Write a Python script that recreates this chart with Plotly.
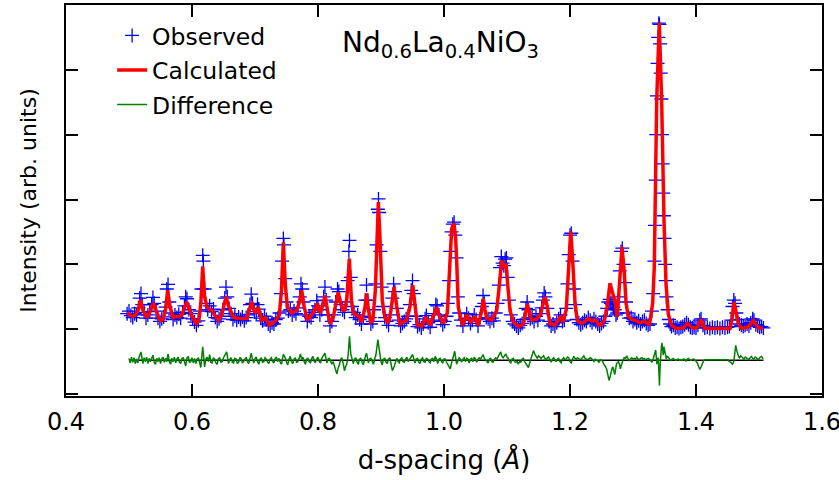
import plotly.graph_objects as go

# ---------------- data ----------------
x_ticks = [0.4, 0.6, 0.8, 1.0, 1.2, 1.4, 1.6]
x_tick_labels = ["0.4", "0.6", "0.8", "1.0", "1.2", "1.4", "1.6"]
y_ticks = [-1, 0, 1, 2, 3, 4, 5]
series_names = ["Observed", "Calculated", "Difference"]
compound_label = "Nd<sub>0.6</sub>La<sub>0.4</sub>NiO<sub>3</sub>"

# observed intensity (d-spacing, intensity)
observed = [
    (0.497, 0.24), (0.500, 0.28), (0.503, 0.21), (0.506, 0.18), (0.509, 0.24), (0.512, 0.22),
    (0.515, 0.33), (0.517, 0.48), (0.519, 0.55), (0.521, 0.38), (0.524, 0.26), (0.527, 0.17),
    (0.530, 0.22), (0.533, 0.27), (0.536, 0.38), (0.538, 0.49), (0.540, 0.40), (0.543, 0.28),
    (0.546, 0.17), (0.549, 0.12), (0.552, 0.16), (0.555, 0.19), (0.558, 0.34), (0.560, 0.62),
    (0.562, 0.69), (0.564, 0.42), (0.567, 0.25), (0.570, 0.15), (0.573, 0.22), (0.576, 0.18),
    (0.579, 0.23), (0.582, 0.17), (0.585, 0.26), (0.588, 0.36), (0.590, 0.50), (0.592, 0.47),
    (0.595, 0.30), (0.598, 0.24), (0.601, 0.16), (0.604, 0.11), (0.607, 0.06), (0.610, 0.13),
    (0.613, 0.28), (0.615, 0.62), (0.617, 1.14), (0.618, 1.05), (0.620, 0.62), (0.622, 0.40),
    (0.625, 0.30), (0.628, 0.36), (0.631, 0.27), (0.634, 0.31), (0.637, 0.18), (0.640, 0.12),
    (0.643, 0.16), (0.646, 0.20), (0.649, 0.30), (0.652, 0.48), (0.654, 0.65), (0.656, 0.50),
    (0.659, 0.32), (0.662, 0.24), (0.665, 0.15), (0.668, 0.20), (0.671, 0.14), (0.674, 0.19),
    (0.677, 0.15), (0.680, 0.19), (0.683, 0.13), (0.686, 0.18), (0.689, 0.22), (0.692, 0.38),
    (0.694, 0.54), (0.696, 0.40), (0.699, 0.27), (0.702, 0.24), (0.704, 0.38), (0.706, 0.31),
    (0.709, 0.17), (0.712, 0.13), (0.715, 0.20), (0.718, 0.15), (0.721, 0.08), (0.724, 0.05),
    (0.727, 0.10), (0.730, 0.08), (0.733, 0.15), (0.736, 0.17), (0.739, 0.25), (0.741, 0.55),
    (0.743, 1.05), (0.745, 1.40), (0.746, 1.30), (0.748, 0.78), (0.750, 0.42), (0.753, 0.28),
    (0.756, 0.30), (0.759, 0.22), (0.762, 0.28), (0.765, 0.24), (0.768, 0.33), (0.771, 0.50),
    (0.773, 0.70), (0.775, 0.62), (0.777, 0.42), (0.780, 0.22), (0.783, 0.12), (0.786, 0.20),
    (0.789, 0.18), (0.792, 0.26), (0.795, 0.30), (0.798, 0.44), (0.800, 0.36), (0.803, 0.22),
    (0.806, 0.30), (0.809, 0.50), (0.811, 0.65), (0.813, 0.45), (0.816, 0.22), (0.819, 0.05),
    (0.822, 0.12), (0.825, 0.22), (0.828, 0.42), (0.831, 0.62), (0.833, 0.58), (0.836, 0.38),
    (0.839, 0.30), (0.842, 0.26), (0.845, 0.42), (0.847, 0.75), (0.849, 1.20), (0.850, 1.37),
    (0.852, 0.80), (0.854, 0.35), (0.857, 0.26), (0.860, 0.18), (0.863, 0.22), (0.866, 0.15),
    (0.869, 0.08), (0.872, 0.20), (0.875, 0.45), (0.877, 0.68), (0.879, 0.45), (0.882, 0.18),
    (0.884, 0.08), (0.887, 0.12), (0.889, 0.30), (0.891, 0.70), (0.893, 1.30), (0.895, 1.85),
    (0.896, 2.01), (0.897, 1.80), (0.899, 1.20), (0.901, 0.65), (0.903, 0.35), (0.906, 0.18),
    (0.909, 0.12), (0.912, 0.06), (0.915, 0.22), (0.918, 0.48), (0.920, 0.70), (0.922, 0.58),
    (0.925, 0.32), (0.928, 0.14), (0.931, 0.05), (0.934, 0.09), (0.937, 0.12), (0.940, 0.16),
    (0.943, 0.20), (0.946, 0.38), (0.948, 0.60), (0.950, 0.75), (0.952, 0.55), (0.955, 0.20),
    (0.958, 0.04), (0.961, 0.07), (0.964, 0.02), (0.967, 0.08), (0.970, 0.16), (0.972, 0.21),
    (0.975, 0.10), (0.978, 0.03), (0.981, 0.12), (0.984, 0.24), (0.987, 0.38), (0.989, 0.36),
    (0.992, 0.22), (0.995, 0.14), (0.998, 0.07), (1.001, 0.12), (1.004, 0.20), (1.006, 0.40),
    (1.008, 0.75), (1.010, 1.20), (1.012, 1.50), (1.014, 1.62), (1.016, 1.65), (1.018, 1.45),
    (1.020, 1.10), (1.022, 0.50), (1.024, 0.25), (1.027, 0.14), (1.030, 0.05), (1.033, 0.15),
    (1.036, 0.24), (1.039, 0.17), (1.042, 0.09), (1.045, 0.14), (1.048, 0.22), (1.051, 0.15),
    (1.054, 0.05), (1.057, 0.16), (1.060, 0.35), (1.062, 0.52), (1.064, 0.40), (1.067, 0.18),
    (1.070, 0.16), (1.073, 0.12), (1.076, 0.17), (1.079, 0.13), (1.082, 0.25), (1.085, 0.40),
    (1.087, 0.68), (1.089, 0.95), (1.091, 1.12), (1.093, 1.02), (1.095, 0.98), (1.097, 1.08),
    (1.099, 1.10), (1.101, 0.80), (1.103, 0.45), (1.106, 0.22), (1.109, 0.12), (1.112, 0.08),
    (1.115, 0.05), (1.118, 0.02), (1.121, 0.06), (1.124, 0.09), (1.127, 0.15), (1.130, 0.32),
    (1.132, 0.42), (1.134, 0.30), (1.137, 0.16), (1.140, 0.18), (1.143, 0.12), (1.146, 0.20),
    (1.149, 0.14), (1.152, 0.24), (1.155, 0.33), (1.157, 0.45), (1.159, 0.56), (1.161, 0.50),
    (1.164, 0.32), (1.167, 0.12), (1.170, 0.05), (1.173, 0.08), (1.176, 0.04), (1.179, 0.10),
    (1.182, 0.16), (1.185, 0.22), (1.188, 0.12), (1.191, 0.14), (1.194, 0.32), (1.196, 0.70),
    (1.198, 1.15), (1.200, 1.45), (1.202, 1.48), (1.204, 1.05), (1.206, 0.62), (1.208, 0.38),
    (1.211, 0.15), (1.214, 0.10), (1.217, 0.07), (1.220, 0.10), (1.223, 0.14), (1.226, 0.12),
    (1.229, 0.18), (1.232, 0.14), (1.235, 0.10), (1.238, 0.16), (1.241, 0.12), (1.244, 0.08),
    (1.247, 0.05), (1.250, 0.09), (1.253, 0.12), (1.256, 0.20), (1.259, 0.32), (1.261, 0.42),
    (1.263, 0.46), (1.265, 0.40), (1.267, 0.38), (1.269, 0.34), (1.271, 0.30), (1.273, 0.22),
    (1.275, 0.25), (1.277, 0.50), (1.279, 0.90), (1.281, 1.20), (1.283, 1.25), (1.285, 1.00),
    (1.287, 0.72), (1.289, 0.42), (1.291, 0.25), (1.294, 0.17), (1.297, 0.18), (1.300, 0.12),
    (1.303, 0.15), (1.306, 0.10), (1.309, 0.13), (1.312, 0.08), (1.315, 0.12), (1.318, 0.14),
    (1.321, 0.09), (1.324, 0.06), (1.327, 0.08), (1.330, 0.28), (1.332, 0.55), (1.334, 1.05),
    (1.335, 1.60), (1.336, 2.30), (1.337, 3.00), (1.338, 3.60), (1.339, 4.10), (1.340, 4.50),
    (1.341, 4.72), (1.342, 4.70), (1.343, 4.40), (1.344, 3.95), (1.345, 3.55), (1.346, 3.00),
    (1.347, 2.55), (1.348, 2.10), (1.349, 1.75), (1.350, 1.40), (1.351, 1.00), (1.352, 0.75),
    (1.353, 0.50), (1.355, 0.30), (1.357, 0.15), (1.359, 0.08), (1.361, 0.04), (1.364, 0.06),
    (1.367, 0.02), (1.370, 0.03), (1.373, 0.01), (1.376, 0.03), (1.379, 0.04), (1.382, 0.07),
    (1.385, 0.10), (1.388, 0.07), (1.391, 0.03), (1.394, 0.02), (1.397, 0.03), (1.400, 0.02),
    (1.403, 0.06), (1.406, 0.14), (1.408, 0.16), (1.411, 0.06), (1.414, 0.02), (1.418, 0.03),
    (1.422, 0.01), (1.426, 0.03), (1.430, 0.02), (1.434, 0.03), (1.438, 0.01), (1.442, 0.03),
    (1.446, 0.02), (1.450, 0.03), (1.453, 0.04), (1.456, 0.14), (1.458, 0.35), (1.460, 0.45),
    (1.462, 0.40), (1.464, 0.25), (1.466, 0.15), (1.469, 0.08), (1.472, 0.06), (1.475, 0.04),
    (1.478, 0.06), (1.481, 0.08), (1.484, 0.05), (1.487, 0.10), (1.490, 0.16), (1.492, 0.14),
    (1.495, 0.07), (1.498, 0.05), (1.501, 0.03), (1.504, 0.04), (1.507, 0.02),
]

# calculated profile (d-spacing, intensity)
calculated = [
    (0.497, 0.25), (0.502, 0.22), (0.506, 0.20), (0.510, 0.22), (0.514, 0.28), (0.5185, 0.45),
    (0.522, 0.30), (0.528, 0.18), (0.532, 0.24), (0.536, 0.34), (0.5386, 0.40), (0.542, 0.32),
    (0.546, 0.20), (0.550, 0.13), (0.554, 0.15), (0.558, 0.30), (0.5614, 0.60), (0.565, 0.35),
    (0.570, 0.18), (0.575, 0.20), (0.580, 0.19), (0.584, 0.22), (0.588, 0.32), (0.5915, 0.42),
    (0.595, 0.33), (0.600, 0.20), (0.607, 0.09), (0.611, 0.14), (0.614, 0.40), (0.617, 0.97),
    (0.620, 0.50), (0.624, 0.34), (0.628, 0.30), (0.632, 0.29), (0.637, 0.20), (0.642, 0.14),
    (0.647, 0.22), (0.651, 0.38), (0.654, 0.50), (0.658, 0.36), (0.663, 0.25), (0.666, 0.18),
    (0.672, 0.17), (0.680, 0.16), (0.687, 0.17), (0.691, 0.28), (0.6947, 0.42), (0.698, 0.30),
    (0.701, 0.25), (0.7053, 0.34), (0.7106, 0.14), (0.716, 0.18), (0.7228, 0.06), (0.7317, 0.12),
    (0.7386, 0.22), (0.742, 0.60), (0.745, 1.34), (0.748, 0.70), (0.7513, 0.34), (0.7582, 0.25),
    (0.766, 0.29), (0.770, 0.40), (0.7741, 0.60), (0.778, 0.35), (0.783, 0.14), (0.790, 0.22),
    (0.795, 0.30), (0.799, 0.40), (0.803, 0.25), (0.807, 0.35), (0.8111, 0.52), (0.815, 0.30),
    (0.819, 0.08), (0.824, 0.18), (0.828, 0.40), (0.832, 0.57), (0.836, 0.40), (0.840, 0.29),
    (0.843, 0.30), (0.846, 0.50), (0.8497, 1.09), (0.853, 0.45), (0.856, 0.25), (0.864, 0.20),
    (0.869, 0.11), (0.874, 0.30), (0.8773, 0.55), (0.880, 0.30), (0.8836, 0.11), (0.887, 0.13),
    (0.891, 0.60), (0.894, 1.60), (0.8958, 1.96), (0.898, 1.50), (0.902, 0.45), (0.9063, 0.17),
    (0.9116, 0.09), (0.916, 0.30), (0.9206, 0.65), (0.925, 0.35), (0.930, 0.08), (0.9407, 0.14),
    (0.946, 0.35), (0.9503, 0.68), (0.954, 0.30), (0.9577, 0.06), (0.9646, 0.05), (0.9714, 0.19),
    (0.9778, 0.06), (0.983, 0.20), (0.9884, 0.34), (0.993, 0.20), (0.9989, 0.09), (1.0053, 0.25),
    (1.0095, 1.11), (1.0122, 1.55), (1.0159, 1.63), (1.0185, 1.40), (1.0201, 1.06), (1.0227, 0.34),
    (1.0265, 0.17), (1.0296, 0.06), (1.036, 0.22), (1.043, 0.10), (1.049, 0.20), (1.0545, 0.06),
    (1.059, 0.25), (1.0624, 0.47), (1.065, 0.30), (1.0678, 0.17), (1.0757, 0.14), (1.0836, 0.29),
    (1.087, 0.60), (1.0916, 1.06), (1.095, 0.95), (1.0984, 1.01), (1.101, 0.70), (1.1048, 0.29),
    (1.110, 0.11), (1.118, 0.04), (1.126, 0.08), (1.1322, 0.39), (1.139, 0.14), (1.147, 0.16),
    (1.153, 0.22), (1.157, 0.40), (1.160, 0.50), (1.164, 0.35), (1.168, 0.09), (1.176, 0.06),
    (1.185, 0.20), (1.189, 0.11), (1.194, 0.30), (1.197, 0.80), (1.2011, 1.51), (1.204, 1.10),
    (1.208, 0.40), (1.2116, 0.13), (1.2185, 0.09), (1.224, 0.12), (1.229, 0.17), (1.235, 0.12),
    (1.240, 0.15), (1.246, 0.06), (1.251, 0.08), (1.255, 0.15), (1.259, 0.35), (1.2635, 0.71),
    (1.2688, 0.52), (1.272, 0.40), (1.275, 0.19), (1.278, 0.60), (1.2825, 1.27), (1.286, 0.90),
    (1.289, 0.40), (1.2926, 0.19), (1.298, 0.15), (1.305, 0.13), (1.312, 0.10), (1.318, 0.13),
    (1.326, 0.06), (1.3312, 0.40), (1.3338, 0.96), (1.3376, 3.52), (1.3417, 4.73), (1.3455, 3.52),
    (1.347, 2.50), (1.3492, 1.68), (1.3524, 0.70), (1.356, 0.24), (1.361, 0.06), (1.369, 0.01),
    (1.380, 0.02), (1.386, 0.09), (1.396, 0.01), (1.403, 0.04), (1.4075, 0.15), (1.414, 0.01),
    (1.430, 0.01), (1.454, 0.01), (1.457, 0.15), (1.4603, 0.42), (1.464, 0.25), (1.467, 0.09),
    (1.4725, 0.01), (1.483, 0.04), (1.491, 0.13), (1.497, 0.04), (1.5016, 0.01), (1.506, 0.02),
]

# difference (observed - calculated), drawn shifted below the pattern
difference = [
    (0.500, 0.03), (0.502, -0.04), (0.504, 0.05), (0.506, -0.03), (0.508, 0.04), (0.510, -0.05),
    (0.512, 0.02), (0.514, -0.04), (0.516, 0.05), (0.519, 0.13), (0.522, -0.05), (0.524, 0.04),
    (0.526, -0.02), (0.528, 0.05), (0.530, -0.05), (0.532, 0.03), (0.534, -0.02), (0.536, 0.05),
    (0.538, 0.08), (0.540, -0.03), (0.542, -0.06), (0.544, 0.03), (0.546, -0.02), (0.548, 0.04),
    (0.550, -0.05), (0.552, 0.02), (0.554, 0.05), (0.556, -0.03), (0.558, 0.03), (0.560, -0.02),
    (0.562, 0.10), (0.564, -0.02), (0.566, -0.06), (0.568, 0.03), (0.570, -0.02), (0.572, 0.05),
    (0.574, -0.04), (0.576, 0.02), (0.578, 0.05), (0.580, -0.03), (0.582, -0.05), (0.584, 0.03),
    (0.586, 0.04), (0.588, -0.02), (0.590, -0.09), (0.592, 0.04), (0.594, 0.06), (0.596, -0.03),
    (0.598, -0.02), (0.600, 0.04), (0.602, -0.04), (0.604, 0.03), (0.606, -0.05), (0.608, 0.02),
    (0.610, 0.04), (0.612, -0.03), (0.614, -0.11), (0.617, 0.21), (0.620, -0.10), (0.622, 0.02),
    (0.624, 0.05), (0.626, -0.02), (0.628, 0.09), (0.630, -0.03), (0.632, -0.04), (0.634, 0.04),
    (0.636, 0.02), (0.638, -0.04), (0.640, -0.06), (0.642, 0.03), (0.644, 0.04), (0.646, -0.03),
    (0.648, -0.02), (0.650, 0.04), (0.652, 0.07), (0.655, 0.13), (0.658, -0.05), (0.660, 0.02),
    (0.662, 0.04), (0.664, -0.03), (0.666, -0.04), (0.668, 0.03), (0.670, 0.02), (0.672, -0.05),
    (0.674, -0.03), (0.676, 0.04), (0.678, 0.03), (0.680, -0.04), (0.682, -0.02), (0.684, 0.03),
    (0.686, 0.05), (0.688, -0.02), (0.690, -0.05), (0.692, 0.03), (0.694, 0.11), (0.696, 0.02),
    (0.698, -0.04), (0.700, 0.03), (0.702, 0.05), (0.704, -0.02), (0.706, -0.06), (0.708, 0.02),
    (0.710, 0.04), (0.712, -0.03), (0.714, -0.02), (0.716, 0.04), (0.718, 0.02), (0.720, -0.03),
    (0.722, -0.05), (0.724, 0.02), (0.726, 0.04), (0.728, -0.02), (0.730, -0.04), (0.732, 0.03),
    (0.734, 0.05), (0.736, -0.02), (0.738, 0.03), (0.740, -0.03), (0.742, -0.06), (0.745, 0.09),
    (0.748, 0.04), (0.750, -0.03), (0.752, -0.07), (0.754, 0.02), (0.756, 0.06), (0.758, -0.02),
    (0.760, -0.05), (0.762, 0.02), (0.764, 0.04), (0.766, -0.03), (0.768, -0.02), (0.770, 0.03),
    (0.772, 0.10), (0.774, 0.02), (0.776, 0.05), (0.778, -0.02), (0.780, -0.06), (0.782, 0.02),
    (0.784, 0.03), (0.786, -0.02), (0.788, -0.04), (0.790, 0.03), (0.792, 0.06), (0.794, -0.02),
    (0.796, -0.03), (0.798, 0.02), (0.800, 0.05), (0.802, -0.02), (0.804, -0.04), (0.806, 0.03),
    (0.808, 0.06), (0.811, 0.11), (0.814, -0.04), (0.816, 0.02), (0.818, 0.03), (0.820, -0.03),
    (0.822, -0.06), (0.824, -0.02), (0.826, -0.09), (0.828, -0.12), (0.830, -0.21), (0.832, -0.12),
    (0.834, -0.07), (0.836, 0.02), (0.838, 0.04), (0.840, -0.05), (0.842, -0.16), (0.844, -0.09),
    (0.846, -0.05), (0.848, 0.10), (0.850, 0.37), (0.852, 0.10), (0.854, 0.02), (0.856, -0.05),
    (0.858, 0.02), (0.860, 0.04), (0.862, -0.03), (0.864, -0.06), (0.866, 0.02), (0.868, 0.03),
    (0.870, -0.03), (0.872, -0.07), (0.874, 0.02), (0.877, 0.11), (0.880, -0.04), (0.882, 0.02),
    (0.884, 0.03), (0.886, -0.03), (0.888, -0.06), (0.890, 0.02), (0.892, 0.09), (0.895, 0.32),
    (0.898, 0.06), (0.900, -0.02), (0.902, -0.07), (0.904, 0.02), (0.906, 0.03), (0.908, -0.03),
    (0.910, -0.05), (0.912, 0.02), (0.914, 0.04), (0.916, -0.06), (0.918, -0.16), (0.921, -0.09),
    (0.923, -0.02), (0.925, 0.03), (0.927, -0.02), (0.929, -0.04), (0.931, 0.02), (0.933, 0.04),
    (0.935, -0.02), (0.937, -0.03), (0.939, 0.02), (0.941, 0.05), (0.943, -0.02), (0.945, 0.02),
    (0.947, 0.04), (0.950, 0.09), (0.952, 0.02), (0.954, -0.04), (0.956, 0.02), (0.958, 0.03),
    (0.960, -0.03), (0.962, -0.05), (0.964, 0.02), (0.966, 0.04), (0.968, -0.02), (0.970, -0.03),
    (0.972, 0.03), (0.974, 0.02), (0.976, -0.02), (0.978, -0.04), (0.980, 0.02), (0.982, 0.03),
    (0.984, -0.02), (0.986, 0.06), (0.988, 0.02), (0.990, -0.05), (0.992, 0.02), (0.994, 0.03),
    (0.996, -0.02), (0.998, -0.04), (1.000, 0.02), (1.002, 0.02), (1.004, -0.03), (1.006, -0.06),
    (1.008, -0.08), (1.010, -0.13), (1.012, -0.04), (1.014, 0.05), (1.017, 0.14), (1.020, -0.06),
    (1.022, -0.02), (1.024, 0.04), (1.026, 0.02), (1.028, -0.03), (1.030, 0.02), (1.032, 0.04),
    (1.034, -0.02), (1.036, 0.03), (1.038, 0.02), (1.040, -0.04), (1.042, 0.02), (1.044, 0.03),
    (1.046, -0.02), (1.048, 0.05), (1.050, 0.02), (1.052, -0.03), (1.054, 0.02), (1.056, 0.04),
    (1.058, 0.02), (1.060, 0.05), (1.062, 0.09), (1.064, 0.03), (1.066, 0.01), (1.068, -0.02),
    (1.070, -0.04), (1.072, 0.02), (1.074, 0.03), (1.076, -0.02), (1.078, -0.03), (1.080, 0.02),
    (1.082, 0.04), (1.084, 0.02), (1.086, 0.06), (1.088, 0.08), (1.090, 0.13), (1.092, 0.06),
    (1.094, 0.04), (1.096, 0.07), (1.098, 0.10), (1.100, 0.05), (1.102, 0.03), (1.104, -0.02),
    (1.106, -0.04), (1.108, 0.02), (1.110, 0.03), (1.112, -0.02), (1.114, -0.03), (1.116, -0.02),
    (1.118, -0.06), (1.120, -0.02), (1.122, -0.03), (1.124, 0.02), (1.126, 0.03), (1.128, -0.02),
    (1.130, -0.05), (1.132, -0.08), (1.134, -0.11), (1.136, -0.04), (1.138, 0.03), (1.140, 0.08),
    (1.142, 0.15), (1.144, 0.10), (1.146, 0.06), (1.148, 0.03), (1.150, 0.07), (1.152, 0.04),
    (1.154, 0.03), (1.156, 0.05), (1.158, 0.07), (1.160, 0.03), (1.162, 0.01), (1.164, 0.04),
    (1.166, 0.05), (1.168, 0.01), (1.170, -0.03), (1.172, 0.02), (1.174, 0.04), (1.176, 0.01),
    (1.178, -0.02), (1.180, 0.02), (1.182, 0.03), (1.184, -0.02), (1.186, -0.04), (1.188, 0.02),
    (1.190, 0.04), (1.192, 0.01), (1.194, 0.02), (1.196, 0.05), (1.198, 0.04), (1.200, -0.02),
    (1.202, -0.04), (1.204, 0.02), (1.206, 0.06), (1.208, 0.03), (1.210, 0.02), (1.212, 0.04),
    (1.214, 0.03), (1.216, 0.01), (1.218, 0.02), (1.220, 0.04), (1.222, 0.07), (1.224, 0.03),
    (1.226, 0.02), (1.228, 0.01), (1.230, 0.02), (1.232, 0.04), (1.234, 0.03), (1.236, 0.01),
    (1.238, -0.02), (1.240, 0.02), (1.242, 0.01), (1.244, -0.01), (1.246, -0.03), (1.248, 0.01),
    (1.250, 0.00), (1.252, -0.02), (1.254, -0.07), (1.256, -0.09), (1.258, -0.13), (1.260, -0.20),
    (1.262, -0.31), (1.264, -0.24), (1.265, -0.18), (1.267, -0.12), (1.268, -0.10), (1.270, -0.16),
    (1.271, -0.22), (1.273, -0.10), (1.274, -0.05), (1.276, -0.03), (1.277, -0.02), (1.279, -0.08),
    (1.280, -0.13), (1.282, -0.06), (1.283, -0.02), (1.285, 0.02), (1.286, 0.04), (1.288, 0.03),
    (1.290, 0.07), (1.292, 0.02), (1.294, -0.01), (1.296, 0.02), (1.298, 0.04), (1.300, 0.02),
    (1.302, 0.03), (1.304, 0.02), (1.306, 0.05), (1.308, 0.02), (1.310, 0.01), (1.312, 0.03),
    (1.314, 0.04), (1.316, 0.02), (1.318, 0.03), (1.320, 0.01), (1.322, 0.02), (1.324, 0.03),
    (1.326, 0.02), (1.328, 0.00), (1.330, -0.03), (1.332, 0.02), (1.333, 0.05), (1.335, 0.10),
    (1.336, 0.16), (1.337, 0.04), (1.338, -0.06), (1.339, 0.02), (1.340, 0.04), (1.341, -0.15),
    (1.342, -0.39), (1.343, -0.10), (1.344, 0.11), (1.345, 0.20), (1.346, 0.27), (1.347, 0.15),
    (1.348, 0.08), (1.349, 0.21), (1.350, 0.17), (1.351, 0.12), (1.352, 0.05), (1.353, 0.02),
    (1.354, 0.06), (1.356, 0.05), (1.358, 0.02), (1.360, 0.00), (1.362, 0.02), (1.364, 0.03),
    (1.366, 0.01), (1.368, 0.00), (1.370, 0.01), (1.372, 0.02), (1.374, 0.00), (1.376, 0.01),
    (1.378, 0.00), (1.380, 0.02), (1.382, 0.01), (1.384, -0.01), (1.386, 0.02), (1.388, 0.03),
    (1.390, 0.01), (1.392, 0.00), (1.394, 0.01), (1.396, 0.02), (1.398, 0.00), (1.400, -0.01),
    (1.402, -0.04), (1.404, -0.09), (1.406, -0.14), (1.408, -0.10), (1.410, -0.04), (1.412, -0.01),
    (1.414, 0.01), (1.418, 0.01), (1.422, 0.00), (1.426, 0.01), (1.430, 0.01), (1.434, 0.00),
    (1.438, 0.01), (1.442, 0.01), (1.446, 0.00), (1.450, 0.01), (1.452, -0.01), (1.454, -0.02),
    (1.456, -0.04), (1.458, -0.06), (1.460, -0.02), (1.461, 0.06), (1.463, 0.23), (1.465, 0.14),
    (1.466, 0.09), (1.468, 0.05), (1.469, 0.04), (1.471, 0.07), (1.472, 0.06), (1.474, 0.03),
    (1.476, 0.02), (1.478, 0.05), (1.480, 0.04), (1.482, 0.02), (1.484, 0.01), (1.486, 0.04),
    (1.488, 0.06), (1.490, 0.03), (1.492, 0.02), (1.494, 0.05), (1.496, 0.04), (1.498, 0.01),
    (1.500, 0.02), (1.502, 0.05), (1.504, 0.06), (1.506, 0.03), (1.507, 0.04),
]

DIFF_OFFSET = -0.48

# ---------------- figure ----------------
d_obs = [p[0] for p in observed]
i_obs = [p[1] for p in observed]
d_calc = [p[0] for p in calculated]
i_calc = [p[1] for p in calculated]
d_diff = [p[0] for p in difference]
i_diff = [p[1] + DIFF_OFFSET for p in difference]

FONT = "DejaVu Sans, Arial, sans-serif"

fig = go.Figure()
fig.add_trace(go.Scatter(
    x=d_obs, y=i_obs, mode="markers", name=series_names[0], legendgroup="a",
    marker=dict(symbol="cross-thin", size=10, color="#0000ff",
                line=dict(color="#0000ff", width=1.3)),
))
fig.add_trace(go.Scatter(
    x=d_calc, y=i_calc, mode="lines", name=series_names[1], legendgroup="b",
    line=dict(color="#ff0000", width=3.5),
))
fig.add_trace(go.Scatter(
    x=[d_diff[0], d_diff[-1]], y=[DIFF_OFFSET, DIFF_OFFSET], mode="lines",
    line=dict(color="black", width=1.5), showlegend=False, hoverinfo="skip",
))
fig.add_trace(go.Scatter(
    x=d_diff, y=i_diff, mode="lines", name=series_names[2], legendgroup="c",
    line=dict(color="#008000", width=1.5),
))

axis_common = dict(
    showline=True, linecolor="black", linewidth=1.5, mirror="ticks",
    ticks="inside", ticklen=12, tickwidth=1.5, tickcolor="black",
    showgrid=False, zeroline=False, automargin=False,
)

fig.update_layout(
    width=839, height=480,
    margin=dict(l=66, r=17, t=5, b=84),
    paper_bgcolor="white", plot_bgcolor="white",
    font=dict(family=FONT, size=22, color="black"),
    showlegend=True,
    legend=dict(x=0.061, y=0.978, xanchor="left", yanchor="top",
                bgcolor="rgba(0,0,0,0)", font=dict(size=23.5), tracegroupgap=1),
    xaxis=dict(
        range=[0.4, 1.6], tickmode="array", tickvals=x_ticks, ticktext=x_tick_labels,
        tickfont=dict(size=24), ticklabelstandoff=3, ticklabeloverflow="allow",
        title=dict(text="d-spacing (<i>Å</i>)", font=dict(size=26), standoff=16),
        **axis_common,
    ),
    yaxis=dict(
        range=[-1.03, 5.0], tickmode="array", tickvals=y_ticks, showticklabels=False,
        title=dict(text="Intensity (arb. units)", font=dict(size=22), standoff=22),
        **axis_common,
    ),
    annotations=[dict(
        text=compound_label, xref="paper", yref="paper", x=0.495, y=0.898,
        xanchor="center", yanchor="middle", showarrow=False, font=dict(size=28),
    )],
)

fig.write_html("out.html", config={"displayModeBar": False},
               post_script="document.body.style.margin='0px';")
